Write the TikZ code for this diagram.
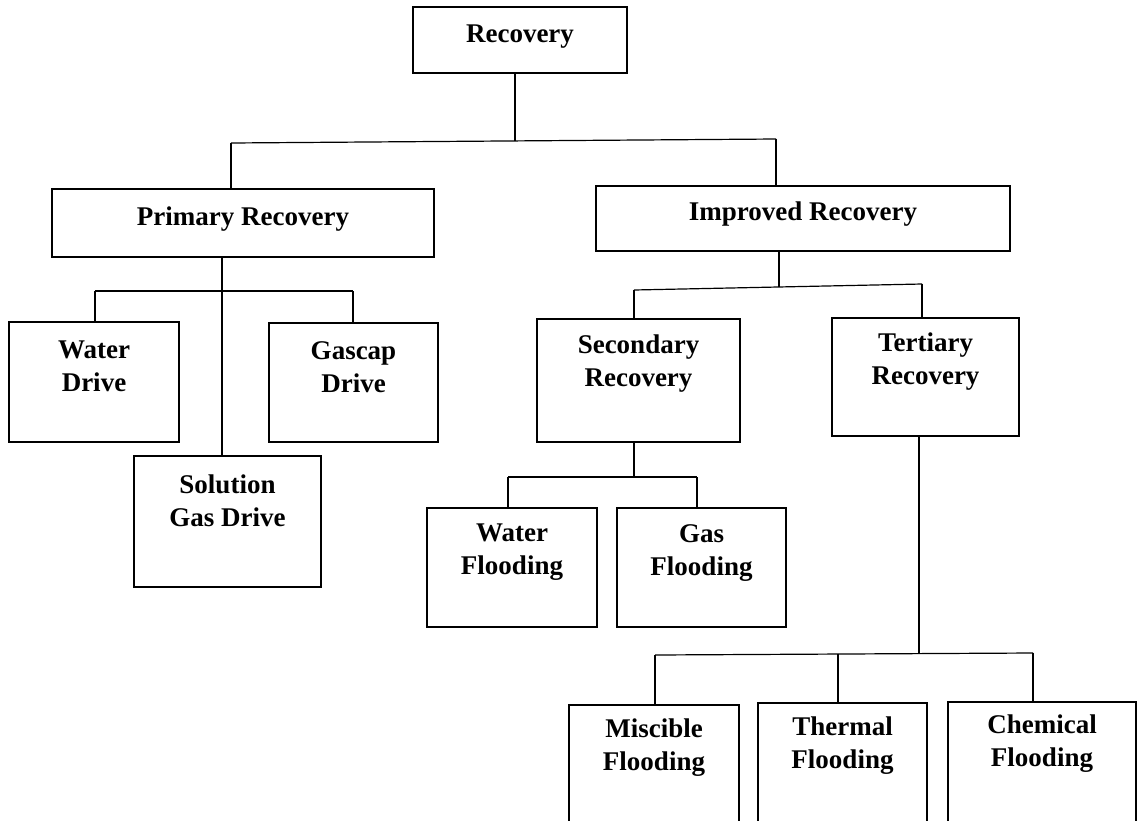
\documentclass[tikz,border=0pt]{standalone}
\usepackage{fontspec}
\setmainfont{Liberation Serif}
\begin{document}
\begin{tikzpicture}[x=1pt,y=-1pt,
  box/.style={draw, line width=1.2pt, rectangle, inner sep=0pt},
  lbl/.style={font=\bfseries\fontsize{27}{33}\selectfont, align=center, inner sep=0pt},
  wire/.style={line width=1.2pt}]
\useasboundingbox (0,0) rectangle (1138,820);
\clip (0,0) rectangle (1138,820);
% boxes
\node[box, minimum width=214pt, minimum height=66pt] (rec) at (520,40) {};
\node[lbl] (recT) at (520,37) {Recovery};
\node[box, minimum width=382pt, minimum height=68pt] (prim) at (243,223) {};
\node[lbl] (primT) at (243,219) {Primary Recovery};
\node[box, minimum width=414pt, minimum height=65pt] (imp) at (803,218.5) {};
\node[lbl] (impT) at (803,214) {Improved Recovery};
\node[box, minimum width=170pt, minimum height=120pt] (water) at (94,382) {};
\node[lbl] (waterT) at (94,366) {Water\\Drive};
\node[box, minimum width=169pt, minimum height=119pt] (gas) at (353.5,382.5) {};
\node[lbl] (gasT) at (353.5,367) {Gascap\\Drive};
\node[box, minimum width=187pt, minimum height=131pt] (sol) at (227.5,521.5) {};
\node[lbl] (solT) at (227.5,501) {Solution\\Gas Drive};
\node[box, minimum width=203pt, minimum height=123pt] (sec) at (638.5,380.5) {};
\node[lbl] (secT) at (638.5,363.5) {Secondary\\Recovery};
\node[box, minimum width=187pt, minimum height=118pt] (ter) at (925.5,377) {};
\node[lbl] (terT) at (925.5,361.5) {Tertiary\\Recovery};
\node[box, minimum width=170pt, minimum height=119pt] (wf) at (512,567.5) {};
\node[lbl] (wfT) at (512,552) {Water\\Flooding};
\node[box, minimum width=169pt, minimum height=119pt] (gf) at (701.5,567.5) {};
\node[lbl] (gfT) at (701.5,553) {Gas\\Flooding};
\node[box, minimum width=170pt, minimum height=145pt] (mis) at (654,777.5) {};
\node[lbl] (misT) at (654,747.5) {Miscible\\Flooding};
\node[box, minimum width=169pt, minimum height=147pt] (the) at (842.5,776.5) {};
\node[lbl] (theT) at (842.5,746) {Thermal\\Flooding};
\node[box, minimum width=188pt, minimum height=148pt] (che) at (1042,776) {};
\node[lbl] (cheT) at (1042,744) {Chemical\\Flooding};
% bus 1
\coordinate (b1m) at (515,141);
\coordinate (b1l) at (231,143);
\coordinate (b1r) at (776,139);
\draw[wire] (rec.south -| b1m) -- (b1m);
\draw[wire] (b1l) -- (b1r);
\draw[wire] (b1l) -- (b1l |- prim.north);
\draw[wire] (b1r) -- (b1r |- imp.north);
% bus 2
\coordinate (b2m) at (222,291);
\coordinate (b2l) at (95,291);
\coordinate (b2r) at (353,291);
\draw[wire] (prim.south -| b2m) -- (sol.north -| b2m);
\draw[wire] (b2l) -- (b2r);
\draw[wire] (b2l) -- (b2l |- water.north);
\draw[wire] (b2r) -- (b2r |- gas.north);
% bus 3
\coordinate (b3m) at (779,287);
\coordinate (b3l) at (634,290);
\coordinate (b3r) at (922,284);
\draw[wire] (imp.south -| b3m) -- (b3m);
\draw[wire] (b3l) -- (b3r);
\draw[wire] (b3l) -- (b3l |- sec.north);
\draw[wire] (b3r) -- (b3r |- ter.north);
% bus 4
\coordinate (b4m) at (634,477);
\coordinate (b4l) at (508,477);
\coordinate (b4r) at (697,477);
\draw[wire] (sec.south -| b4m) -- (b4m);
\draw[wire] (b4l) -- (b4r);
\draw[wire] (b4l) -- (b4l |- wf.north);
\draw[wire] (b4r) -- (b4r |- gf.north);
% bus 5
\coordinate (b5m) at (919,654);
\coordinate (b5l) at (655,655);
\coordinate (b5c) at (838,654);
\coordinate (b5r) at (1033,653);
\draw[wire] (ter.south -| b5m) -- (b5m);
\draw[wire] (b5l) -- (b5r);
\draw[wire] (b5l) -- (b5l |- mis.north);
\draw[wire] (b5c) -- (b5c |- the.north);
\draw[wire] (b5r) -- (b5r |- che.north);
\end{tikzpicture}
\end{document}
